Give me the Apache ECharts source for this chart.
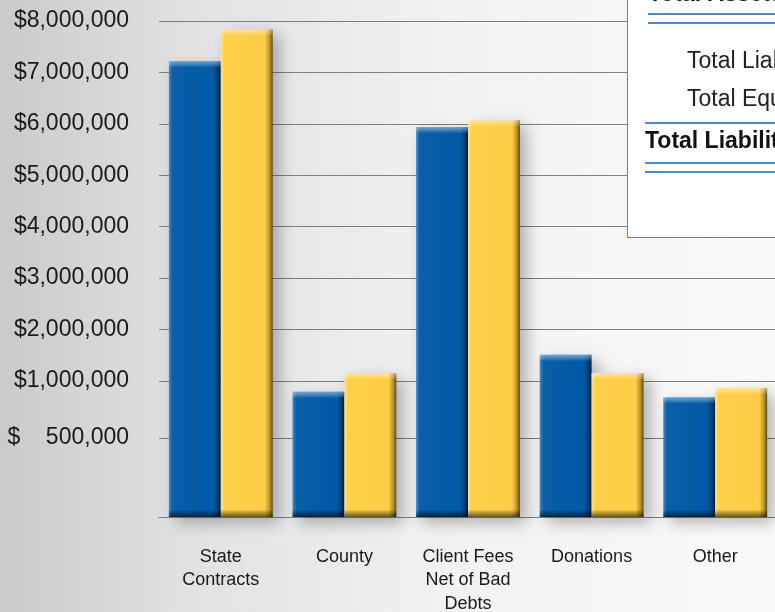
<!DOCTYPE html>
<html><head><meta charset="utf-8">
<script src="https://cdn.jsdelivr.net/npm/echarts@6/dist/echarts.min.js"></script>
<style>html,body{margin:0;padding:0;overflow:hidden;} #c{width:775px;height:612px;}</style>
</head><body><div id="c"></div>
<script>
const categories = ['State\nContracts', 'County', 'Client Fees\nNet of Bad\nDebts', 'Donations', 'Other'];
const priorYear = [7220000, 906000, 5940000, 1510000, 857000];
const currentYear = [7840000, 1150000, 6070000, 1150000, 936000];
const tickValues = [0, 500000, 1000000, 2000000, 3000000, 4000000, 5000000, 6000000, 7000000, 8000000];
const tickLabels = ['', '$    500,000', '$1,000,000', '$2,000,000', '$3,000,000', '$4,000,000', '$5,000,000', '$6,000,000', '$7,000,000', '$8,000,000'];
// the reference axis is stretched below $1,000,000: these two ranges are drawn wider
const axisBreaks = [
  {start: 0, end: 500000, gap: 1536000},
  {start: 500000, end: 1000000, gap: 1108000}
];
const boxLines = ['Total Assets', 'Total Liabilities', 'Total Equity', 'Total Liabilities and Equity'];

const FONT = "'Liberation Sans', Arial, sans-serif";
const chart = echarts.init(document.getElementById('c'), null, {renderer: 'canvas'});

function hGrad(stops) { return {type: 'linear', x: 0, y: 0, x2: 1, y2: 0, colorStops: stops}; }
function vGrad(stops) { return {type: 'linear', x: 0, y: 0, x2: 0, y2: 1, colorStops: stops}; }
const blueFill = hGrad([
  {offset: 0, color: '#4a8cc8'}, {offset: 0.07, color: '#0a5fa8'},
  {offset: 0.85, color: '#005aa6'}, {offset: 0.94, color: '#003f78'}, {offset: 1, color: '#001f40'}
]);
const yellowFill = hGrad([
  {offset: 0, color: '#ffe48a'}, {offset: 0.07, color: '#fecf48'},
  {offset: 0.85, color: '#fdcd46'}, {offset: 0.94, color: '#b8922c'}, {offset: 1, color: '#5e4a18'}
]);
const shadow = {shadowBlur: 14, shadowColor: 'rgba(0,0,0,0.28)', shadowOffsetX: 7, shadowOffsetY: 6};
const topShine = vGrad([{offset: 0, color: 'rgba(255,255,255,0.45)'}, {offset: 1, color: 'rgba(255,255,255,0.05)'}]);
const bottomShade = vGrad([{offset: 0, color: 'rgba(0,0,0,0.05)'}, {offset: 1, color: 'rgba(0,0,0,0.6)'}]);
const common = {barGap: '0%', barCategoryGap: '16%'};

function overlay(data, pos, fill, h, axisIndex) {
  return Object.assign({type: 'pictorialBar', data: data, xAxisIndex: axisIndex, symbol: 'rect', symbolPosition: pos,
    symbolSize: ['100%', h], silent: true, z: 3, itemStyle: {color: fill}}, common);
}

const option = {
  animation: false,
  backgroundColor: {type: 'linear', x: 0, y: 0, x2: 1, y2: 0, colorStops: [
    {offset: 0, color: '#c9cacc'}, {offset: 0.25, color: '#e1e2e4'},
    {offset: 0.6, color: '#f2f2f2'}, {offset: 1, color: '#fafafa'}]},
  grid: {left: 159, width: 618, top: 21, bottom: 95, containLabel: false, outerBoundsMode: 'none'},
  xAxis: [{
    type: 'category', data: categories,
    axisLine: {show: true, onZero: false, lineStyle: {color: '#808080', width: 1.2}},
    axisTick: {show: false},
    axisLabel: {fontFamily: FONT, fontSize: 18, color: '#1a1a1a', lineHeight: 23.5, margin: 28, interval: 0}
  }, {
    type: 'category', data: categories, show: false, position: 'bottom'
  }],
  yAxis: {
    type: 'value', min: 0, max: 8000000,
    breaks: axisBreaks,
    breakArea: {show: false, itemStyle: {color: 'rgba(0,0,0,0)', borderColor: 'rgba(0,0,0,0)', borderWidth: 0}},
    axisLine: {show: false}, axisTick: {show: false, customValues: tickValues},
    axisLabel: {
      customValues: tickValues, fontFamily: FONT, fontSize: 23, color: '#1a1a1a', margin: 30,
      formatter: function (v) { const i = tickValues.indexOf(v); return i >= 0 ? tickLabels[i] : ''; }
    },
    splitLine: {show: true, lineStyle: {color: '#7f7f7f', width: 1.2}}
  },
  series: [
    Object.assign({name: 'Prior Year', type: 'bar', data: priorYear, itemStyle: Object.assign({color: blueFill}, shadow)}, common),
    Object.assign({name: 'Current Year', type: 'bar', data: currentYear, itemStyle: Object.assign({color: yellowFill}, shadow)}, common),
    overlay(priorYear, 'end', topShine, 6, 0),
    overlay(currentYear, 'end', topShine, 6, 0),
    overlay(priorYear, 'start', bottomShade, 7, 1),
    overlay(currentYear, 'start', bottomShade, 7, 1)
  ],
  graphic: [
    {type: 'rect', z: 100, shape: {x: 627.5, y: -5, width: 160, height: 242.5},
     style: {fill: '#ffffff', stroke: '#5f82b3', lineWidth: 1}},
    {type: 'text', z: 101, x: 648, y: 6, style: {text: boxLines[0], fontFamily: FONT, fontWeight: 'bold', fontSize: 23, fill: '#111', textVerticalAlign: 'bottom'}},
    {type: 'line', z: 101, shape: {x1: 648, y1: 14, x2: 775, y2: 14}, style: {stroke: '#1b5fa6', lineWidth: 1.4}},
    {type: 'line', z: 101, shape: {x1: 648, y1: 23, x2: 775, y2: 23}, style: {stroke: '#1b5fa6', lineWidth: 1.4}},
    {type: 'text', z: 101, x: 687, y: 62, style: {text: boxLines[1], fontFamily: FONT, fontSize: 23, fill: '#222', textVerticalAlign: 'middle'}},
    {type: 'text', z: 101, x: 687, y: 100, style: {text: boxLines[2], fontFamily: FONT, fontSize: 23, fill: '#222', textVerticalAlign: 'middle'}},
    {type: 'line', z: 101, shape: {x1: 645, y1: 123, x2: 775, y2: 123}, style: {stroke: '#1b5fa6', lineWidth: 1.4}},
    {type: 'text', z: 101, x: 645, y: 142, style: {text: boxLines[3], fontFamily: FONT, fontWeight: 'bold', fontSize: 23, fill: '#111', textVerticalAlign: 'middle'}},
    {type: 'line', z: 101, shape: {x1: 645, y1: 163, x2: 775, y2: 163}, style: {stroke: '#1b5fa6', lineWidth: 1.4}},
    {type: 'line', z: 101, shape: {x1: 645, y1: 172, x2: 775, y2: 172}, style: {stroke: '#1b5fa6', lineWidth: 1.4}}
  ]
};
chart.setOption(option);
</script></body></html>
